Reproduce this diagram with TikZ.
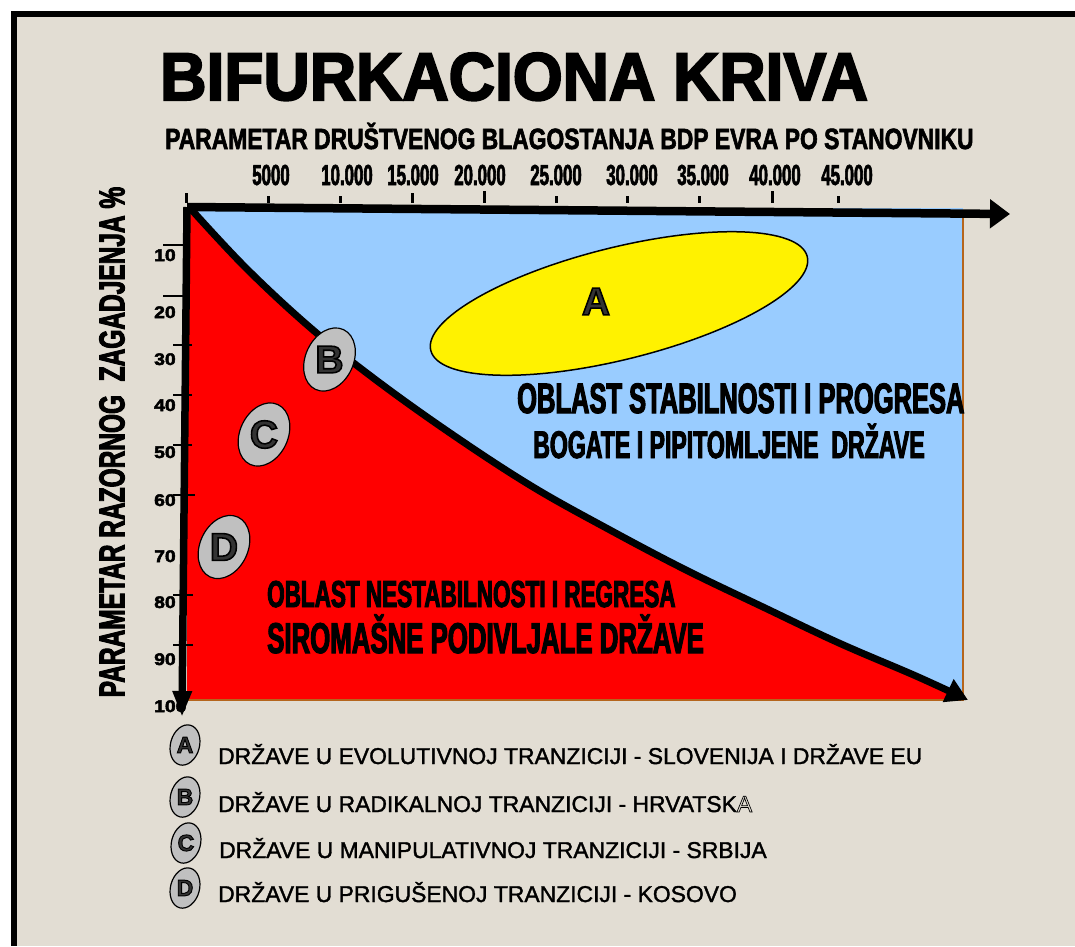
\documentclass[tikz,border=0pt]{standalone}
\usepackage{fontspec}
\usetikzlibrary{shapes.geometric,arrows.meta}
\definecolor{paper}{HTML}{E2DDD3}
\definecolor{sky}{HTML}{99CCFF}
\definecolor{rust}{HTML}{B5651D}
\definecolor{badgegray}{HTML}{C0C0C0}
\definecolor{lettergray}{HTML}{333333}
\newfontfamily\titlefont{Liberation Sans Bold}[FakeStretch=0.95,FakeBold=3]
\newfontfamily\axisfont{Liberation Sans Bold}[FakeStretch=0.78,FakeBold=2]
\newfontfamily\tickfont{Liberation Sans Bold}[FakeStretch=0.58,FakeBold=2]
\newfontfamily\sidefont{Liberation Sans Bold}[FakeStretch=0.68,FakeBold=2.5]
\newfontfamily\areafont{Liberation Sans Bold}[FakeStretch=0.6,FakeBold=2.5]
\newfontfamily\heavyfont{Liberation Sans Bold}[FakeBold=4]
\newfontfamily\numfont{Liberation Sans Bold}[FakeBold=3,FakeStretch=1.15]
\newfontfamily\legendfont{Liberation Sans}[FakeBold=1.5]
\newfontfamily\outlinefont{Liberation Sans}[FakeBold=3]
% fill colour #1, black outline
\newcommand{\strokedltr}[2]{\special{pdf:bcolor [#1] [0 0 0]}#2\special{pdf:ecolor}}
\newcommand{\badgeltr}[1]{\strokedltr{0.2 0.2 0.2}{#1}}
\newcommand{\hollowA}{{\outlinefont\strokedltr{0.886 0.867 0.827}{A}}}

\begin{document}
\begin{tikzpicture}[x=1pt,y=-1pt]
    \tikzstyle{badge}=[ellipse,draw=black,line width=1.2pt,fill=badgegray,inner sep=0pt]
    \tikzstyle{bigletter}=[inner sep=0pt,font=\heavyfont\fontsize{39}{39}\selectfont]
    \tikzstyle{smallletter}=[inner sep=0pt,font=\heavyfont\fontsize{23}{23}\selectfont]
    \tikzstyle{toplabel}=[inner sep=0pt,anchor=base,font=\tickfont\fontsize{29}{29}\selectfont]
    \tikzstyle{sidelabel}=[inner sep=0pt,anchor=base west,font=\numfont\fontsize{16.8}{16.8}\selectfont]
    \tikzstyle{arealabel}=[inner sep=0pt,anchor=base west]
    \tikzstyle{legendtext}=[inner sep=0pt,anchor=base west,font=\legendfont\fontsize{22.9}{22.9}\selectfont]

    % page and frame
    \useasboundingbox (0,0) rectangle (1075,946);
    \fill[white] (0,0) rectangle (1075,946);
    \fill[black] (11,11) rectangle (1075,946);
    \fill[paper] (17,17) rectangle (1075,946);

    % the two areas
    \fill[sky] (187,208) rectangle (963,700);
    \fill[red] plot[smooth,tension=0.6] coordinates {(190,208) (247,269) (313,330) (380,383) (456,437) (533,487) (610,530) (686,570) (763,607) (839,643) (916,676) (963,697)}
        -- (963,700) -- (187,700) -- (187,208) -- cycle;
    \draw[rust,line width=1.5pt] (963,214) -- (963,700) -- (187,700);

    % area A
    \node[ellipse,draw=black,line width=1.5pt,fill=yellow,minimum width=388pt,minimum height=112pt,rotate=14] (zoneA) at (619,303.5) {};
    \node[bigletter] (letterA) at (596,301.5) {\badgeltr{A}};

    % bifurcation curve
    \draw[line width=7pt,-{Triangle[length=22pt,width=24pt]}] plot[smooth,tension=0.6] coordinates {(190,208) (247,269) (313,330) (380,383) (456,437) (533,487) (610,530) (686,570) (763,607) (839,643) (916,676) (968,700)};

    % ticks
    \foreach \x/\top in {186.5/193, 268.5/196, 340.5/196, 412/193, 484/191, 556/196, 627/196, 699/196, 772/191, 838/196}
        \draw[line width=3pt] (\x,\top) -- (\x,203);
    \foreach \y/\xa/\xb in {245/163/190, 296/163/190, 345/173/192, 395/173/192, 445/173/192, 495/173/195, 595/173/193, 645/173/193}
        \draw[line width=1.5pt] (\xa,\y) -- (\xb,\y);

    % tick labels
    \foreach \x/\lab in {271/5000, 347/10.000, 413/15.000, 480/20.000, 556/25.000, 632/30.000, 703/35.000, 775/40.000, 847/45.000}
        \node[toplabel] at (\x,185) {\lab};
    \foreach \y/\lab in {261/10, 318/20, 365/30, 411/40, 458/50, 506/60, 562/70, 608/80, 665/90, 712/100}
        \node[sidelabel] at (154,\y) {\lab};

    % axes
    \coordinate (origin) at (187,207);
    \coordinate (xtip) at (1010,214);
    \coordinate (ytip) at (182,717);
    \draw[line width=8.5pt,-{Triangle[length=20pt,width=28pt]}] (origin) -- (xtip);
    \draw[line width=7.5pt,-{Triangle[length=26pt,width=18pt]}] (origin) -- (ytip);

    % titles
    \node[inner sep=0pt,anchor=base west,font=\titlefont\fontsize{67.5}{67.5}\selectfont] (title) at (160,100) {BIFURKACIONA KRIVA};
    \node[inner sep=0pt,anchor=base west,font=\axisfont\fontsize{29.3}{29.3}\selectfont] (xlabel) at (165,149) {PARAMETAR DRUŠTVENOG BLAGOSTANJA BDP EVRA PO STANOVNIKU};
    \node[inner sep=0pt,rotate=90,font=\sidefont\fontsize{36}{36}\selectfont] (ylabel) at (112,442) {PARAMETAR RAZORNOG\ \ ZAGADJENJA \%};

    % area texts
    \node[arealabel,font=\areafont\fontsize{42.5}{42.5}\selectfont] (stable) at (517,413) {OBLAST STABILNOSTI I PROGRESA};
    \node[arealabel,font=\areafont\fontsize{38.5}{38.5}\selectfont] (rich) at (533,458) {BOGATE I PIPITOMLJENE\ \ DRŽAVE};
    \node[arealabel,font=\areafont\fontsize{37.5}{37.5}\selectfont] (unstable) at (267,607) {OBLAST NESTABILNOSTI I REGRESA};
    \node[arealabel,font=\areafont\fontsize{43}{43}\selectfont] (poor) at (267,653) {SIROMAŠNE PODIVLJALE DRŽAVE};

    % badges B, C, D
    \node[badge,minimum width=48pt,minimum height=66pt,rotate=-25] (badgeB) at (329.5,359.5) {};
    \node[bigletter] at (badgeB) {\badgeltr{B}};
    \node[badge,minimum width=48pt,minimum height=66pt,rotate=-25] (badgeC) at (264,434.5) {};
    \node[bigletter] at (badgeC) {\badgeltr{C}};
    \node[badge,minimum width=48pt,minimum height=66pt,rotate=-25] (badgeD) at (224,547) {};
    \node[bigletter] at (badgeD) {\badgeltr{D}};

    % legend
    \node[badge,minimum width=29pt,minimum height=41pt,rotate=-15] (keyA) at (185,745) {};
    \node[smallletter] at (keyA) {\badgeltr{A}};
    \node[badge,minimum width=29pt,minimum height=41pt,rotate=-15] (keyB) at (185,797) {};
    \node[smallletter] at (keyB) {\badgeltr{B}};
    \node[badge,minimum width=29pt,minimum height=41pt,rotate=-15] (keyC) at (186,843) {};
    \node[smallletter] at (keyC) {\badgeltr{C}};
    \node[badge,minimum width=29pt,minimum height=41pt,rotate=-15] (keyD) at (185,888) {};
    \node[smallletter] at (keyD) {\badgeltr{D}};
    \node[legendtext] (textA) at (218,764) {DRŽAVE U EVOLUTIVNOJ TRANZICIJI - SLOVENIJA I DRŽAVE EU};
    \node[legendtext] (textB) at (218,812) {DRŽAVE U RADIKALNOJ TRANZICIJI - HRVATSK\hollowA};
    \node[legendtext] (textC) at (219,858) {DRŽAVE U MANIPULATIVNOJ TRANZICIJI - SRBIJA};
    \node[legendtext] (textD) at (218,902) {DRŽAVE U PRIGUŠENOJ TRANZICIJI - KOSOVO};
\end{tikzpicture}
\end{document}
